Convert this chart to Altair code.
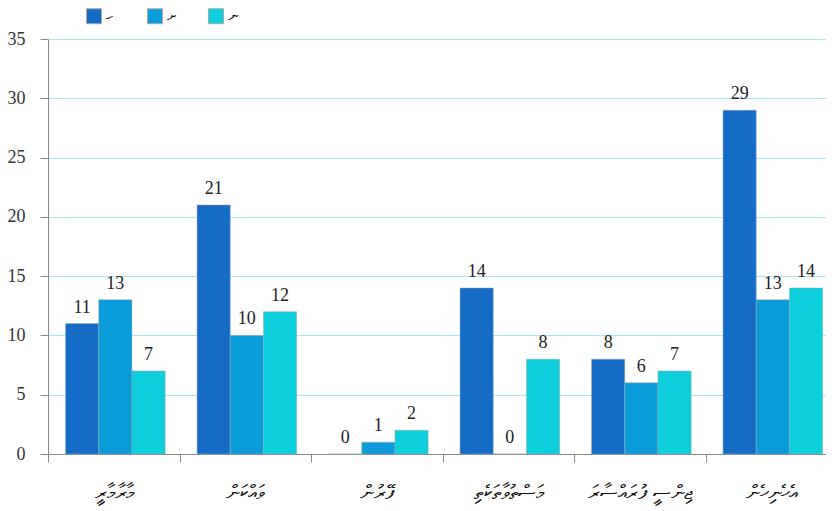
import altair as alt
import pandas as pd

# Categories (left to right as drawn)
categories = ["މާރާމާރީ", "ވައްކަން", "ފޭރުން", "މަސްތުވާތަކެތި", "ޖިންސީ ފުރައްސާރަ", "އެހެނިހެން"]
series = ["ހ", "ށ", "ނ"]
values_1 = [11, 21, 0, 14, 8, 29]
values_2 = [13, 10, 1, 0, 6, 13]
values_3 = [7, 12, 2, 8, 7, 14]
y_ticks = [0, 5, 10, 15, 20, 25, 30, 35]
colors = ["#156cc6", "#0a9cda", "#0dcfdb"]

SERIF = "Times New Roman, Liberation Serif, serif"

rows = []
for s, vals in zip(series, [values_1, values_2, values_3]):
    for c, v in zip(categories, vals):
        rows.append({"cat": c, "series": s, "value": v})
df = pd.DataFrame(rows)

base = alt.Chart(df).encode(
    x=alt.X(
        "cat:N",
        sort=categories,
        scale=alt.Scale(paddingInner=0, paddingOuter=0, range=[0, 789]),
        axis=alt.Axis(
            title=None,
            labelAngle=0,
            tickBand="extent",
            tickSize=8,
            tickColor="#888888",
            domainColor="#888888",
            labelPadding=20,
            labelFontSize=20,
            labelColor="#111111",
            grid=False,
        ),
    ),
    xOffset=alt.XOffset(
        "series:N",
        sort=series,
        scale=alt.Scale(paddingOuter=0.48, paddingInner=0, align=0.55),
    ),
    y=alt.Y(
        "value:Q",
        scale=alt.Scale(domain=[0, 35], nice=False),
        axis=alt.Axis(
            title=None,
            values=y_ticks,
            grid=True,
            gridColor="#a3e9f1",
            gridWidth=1,
            tickSize=8,
            tickColor="#888888",
            domainColor="#888888",
            labelPadding=15,
            labelFont=SERIF,
            labelFontSize=18,
            labelColor="#333333",
        ),
    ),
)

bars = base.mark_bar(stroke="#9aa6b0", strokeWidth=0.5).encode(
    color=alt.Color(
        "series:N",
        sort=series,
        scale=alt.Scale(domain=series, range=colors),
        legend=alt.Legend(
            title=None,
            orient="none",
            legendX=38,
            legendY=-31,
            direction="horizontal",
            symbolType="square",
            symbolSize=225,
            symbolStrokeColor="#aaaaaa",
            symbolStrokeWidth=1,
            labelFontSize=15,
            labelColor="#111111",
            gridAlign="all",
            columnPadding=28,
            padding=0,
        ),
    )
)

labels = base.mark_text(
    baseline="bottom",
    dy=-7,
    font=SERIF,
    fontSize=18,
    color="#222222",
).encode(text="value:Q")

chart = (
    alt.layer(bars, labels)
    .properties(
        width=778,
        height=415,
        autosize=alt.AutoSizeParams(type="none"),
        padding={"left": 40, "top": 31, "right": 0, "bottom": 55},
    )
    .configure_view(stroke=None)
)

chart.save("out.html", embed_options={"renderer": "svg", "actions": False})
